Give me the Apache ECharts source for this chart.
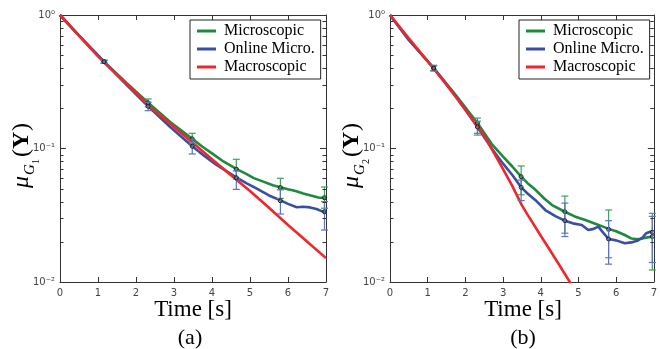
<!DOCTYPE html>
<html>
<head>
<meta charset="utf-8">
<script src="https://cdn.jsdelivr.net/npm/echarts@6.0.0/dist/echarts.min.js"></script>
<style>html,body{margin:0;padding:0;background:#fff;}#c{width:660px;height:349px;}</style>
</head>
<body>
<div id="c"></div>
<script>
// ---------- data ----------
const xTicks = [0, 1, 2, 3, 4, 5, 6, 7];
const yTickLabels = {"0": "10\u2070", "-1": "10\u207B\u00B9", "-2": "10\u207B\u00B2"};
const seriesNames = ["Microscopic", "Online Micro.", "Macroscopic"];
const minorTicks = [0.02,0.03,0.04,0.05,0.06,0.07,0.08,0.09,0.2,0.3,0.4,0.5,0.6,0.7,0.8,0.9];

// (a) left panel
const aMicroT = [0, 0.5, 1.16, 1.75, 2.32, 2.9, 3.48, 3.75, 4.0, 4.3, 4.65, 4.9, 5.1, 5.35, 5.6, 5.82, 6.0, 6.2, 6.4, 6.6, 6.8, 7.0];
const aMicroV = [1, 0.70, 0.447, 0.31, 0.22, 0.158, 0.118, 0.103, 0.092, 0.080, 0.070, 0.0645, 0.060, 0.0565, 0.053, 0.051, 0.0495, 0.048, 0.046, 0.0445, 0.043, 0.0425];
const aOnlineT = [0, 0.5, 1.16, 1.75, 2.32, 2.9, 3.48, 3.8, 4.1, 4.4, 4.65, 4.9, 5.18, 5.5, 5.82, 6.0, 6.23, 6.4, 6.58, 6.75, 6.9, 7.0];
const aOnlineV = [1, 0.70, 0.447, 0.30, 0.207, 0.145, 0.104, 0.088, 0.076, 0.067, 0.0605, 0.055, 0.050, 0.0445, 0.0407, 0.0385, 0.0363, 0.0366, 0.0362, 0.0352, 0.0338, 0.0333];
const aMacroT = [0, 0.5, 1, 1.5, 2, 2.5, 3, 3.5, 4, 4.5, 5, 5.5, 6, 6.5, 7];
const aMacroV = [1, 0.70, 0.49, 0.355, 0.26, 0.19, 0.145, 0.11, 0.083, 0.063, 0.048, 0.036, 0.0267, 0.0201, 0.0151];
// error bars: [t, mean, low, high]
const aMicroErr = [[1.16,0.447,0.437,0.457],[2.32,0.220,0.205,0.235],[3.48,0.118,0.108,0.130],[4.64,0.070,0.059,0.083],[5.8,0.051,0.0423,0.0598],[6.96,0.0428,0.0357,0.0515]];
const aOnlineErr = [[1.16,0.447,0.435,0.459],[2.32,0.207,0.192,0.222],[3.48,0.104,0.091,0.116],[4.64,0.0604,0.0494,0.068],[5.8,0.0406,0.0323,0.049],[6.96,0.0336,0.0245,0.040]];

// (b) right panel
const bMicroT = [0, 0.5, 1.16, 1.75, 2.32, 2.7, 3.0, 3.25, 3.48, 3.65, 3.86, 4.1, 4.3, 4.64, 4.9, 5.18, 5.5, 5.8, 6.0, 6.23, 6.4, 6.58, 6.8, 6.96];
const bMicroV = [1, 0.65, 0.40, 0.25, 0.155, 0.108, 0.087, 0.073, 0.0615, 0.055, 0.049, 0.042, 0.0377, 0.0336, 0.031, 0.0291, 0.027, 0.025, 0.024, 0.0225, 0.0212, 0.0209, 0.0215, 0.0219];
const bOnlineT = [0, 0.5, 1.16, 1.75, 2.32, 2.7, 3.0, 3.25, 3.48, 3.65, 3.86, 4.12, 4.4, 4.64, 4.85, 5.09, 5.26, 5.4, 5.53, 5.65, 5.8, 6.0, 6.23, 6.4, 6.58, 6.7, 6.8, 6.9, 6.96];
const bOnlineV = [1, 0.65, 0.40, 0.245, 0.145, 0.100, 0.077, 0.063, 0.0512, 0.046, 0.041, 0.0346, 0.031, 0.0288, 0.0275, 0.0267, 0.0245, 0.025, 0.026, 0.0235, 0.021, 0.0205, 0.0195, 0.0198, 0.0205, 0.0215, 0.0232, 0.0238, 0.0236];
const bMacroT = [0, 0.5, 1, 1.5, 2, 2.5, 3, 3.25, 3.5, 3.65, 4, 4.25, 4.5, 4.8];
const bMacroV = [1, 0.67, 0.45, 0.30, 0.195, 0.125, 0.070, 0.052, 0.0375, 0.032, 0.0222, 0.0172, 0.0133, 0.0097];
const bMicroErr = [[1.16,0.40,0.385,0.415],[2.32,0.155,0.126,0.169],[3.48,0.0615,0.045,0.074],[4.64,0.0336,0.0232,0.044],[5.8,0.0248,0.0152,0.0346],[6.96,0.0219,0.0123,0.0327]];
const bOnlineErr = [[1.16,0.40,0.38,0.42],[2.32,0.145,0.13,0.16],[3.48,0.0512,0.0407,0.058],[4.64,0.0288,0.0219,0.039],[5.8,0.021,0.0136,0.0288],[6.96,0.0236,0.014,0.031]];

// ---------- styling ----------
const GREEN = '#1e8a3c', BLUE = '#3a4ea6', RED = '#f0262a';
const GREEN_ERR = '#3fa060', BLUE_ERR = '#5d72c0';
const AX = '#333';
const SERIF = '"Liberation Serif","Times New Roman",serif';
const SANS = '"DejaVu Sans",sans-serif';

function zip(t, v) { return t.map((x, i) => [x, v[i]]); }

const grids = [
  {left: 60, top: 15, width: 266, height: 267},
  {left: 390, top: 15, width: 266, height: 267}
];

const lineSt = {show: true, onZero: false, lineStyle: {color: AX, width: 1}};
const xAxes = [], yAxes = [];
grids.forEach((g, i) => {
  xAxes.push({
    gridIndex: i, type: 'value', min: 0, max: 7, interval: 1, position: 'bottom',
    axisLine: lineSt,
    axisTick: {inside: true, length: 5, lineStyle: {color: AX}},
    axisLabel: {color: '#444', fontSize: 10, fontFamily: SANS, margin: 6,
      formatter: v => xTicks.indexOf(v) >= 0 ? String(v) : ''},
    splitLine: {show: false}
  });
  xAxes.push({
    gridIndex: i, type: 'value', min: 0, max: 7, interval: 1, position: 'top',
    axisLine: lineSt,
    axisTick: {inside: true, length: 5, lineStyle: {color: AX}},
    axisLabel: {show: false}, splitLine: {show: false}
  });
  yAxes.push({
    gridIndex: i, type: 'log', logBase: 10, min: 0.01, max: 1, position: 'left',
    axisLine: lineSt,
    axisTick: {inside: true, length: 6, lineStyle: {color: AX}},
    axisLabel: {color: '#444', fontSize: 10, fontFamily: SANS, margin: 5,
      formatter: v => yTickLabels[String(Math.round(Math.log10(v)))] || ''},
    splitLine: {show: false}
  });
  yAxes.push({
    gridIndex: i, type: 'log', logBase: 10, min: 0.01, max: 1, position: 'right',
    axisLine: lineSt,
    axisTick: {inside: true, length: 6, lineStyle: {color: AX}},
    axisLabel: {show: false}, splitLine: {show: false}
  });
});

function lineSeries(name, data, color, gi, z) {
  return {
    name, type: 'line', data, xAxisIndex: gi * 2, yAxisIndex: gi * 2,
    showSymbol: false, symbol: 'none', color, z,
    lineStyle: {color, width: 2.6}, clip: true, animation: false
  };
}

function errSeries(data, color, gi) {
  return {
    type: 'custom', xAxisIndex: gi * 2, yAxisIndex: gi * 2, data, z: 10,
    encode: {x: 0, y: [1, 2, 3]}, animation: false, silent: true,
    renderItem: (params, api) => {
      const t = api.value(0);
      const pm = api.coord([t, api.value(1)]);
      const yLo = api.coord([t, api.value(2)])[1];
      const yHi = api.coord([t, api.value(3)])[1];
      const x = pm[0], w = 3.5;
      const st = {stroke: color, lineWidth: 1.2};
      return {type: 'group', children: [
        {type: 'line', shape: {x1: x, y1: yLo, x2: x, y2: yHi}, style: st},
        {type: 'line', shape: {x1: x - w, y1: yLo, x2: x + w, y2: yLo}, style: st},
        {type: 'line', shape: {x1: x - w, y1: yHi, x2: x + w, y2: yHi}, style: st},
        {type: 'circle', shape: {cx: x, cy: pm[1], r: 2}, style: {fill: 'none', stroke: '#222', lineWidth: 1}}
      ]};
    }
  };
}

function minorSeries(gi) {
  return {
    type: 'custom', xAxisIndex: gi * 2, yAxisIndex: gi * 2, z: 12, silent: true, animation: false,
    data: minorTicks.map(v => [0, v]), encode: {x: 0, y: 1}, clip: false,
    renderItem: (params, api) => {
      const cs = params.coordSys;
      const y = Math.round(api.coord([0, api.value(1)])[1]) + 0.5;
      const st = {stroke: AX, lineWidth: 1};
      return {type: 'group', children: [
        {type: 'line', shape: {x1: cs.x, y1: y, x2: cs.x + 3.5, y2: y}, style: st},
        {type: 'line', shape: {x1: cs.x + cs.width - 3.5, y1: y, x2: cs.x + cs.width, y2: y}, style: st}
      ]};
    }
  };
}

const series = [
  lineSeries(seriesNames[0], zip(aMicroT, aMicroV), GREEN, 0, 2),
  lineSeries(seriesNames[1], zip(aOnlineT, aOnlineV), BLUE, 0, 3),
  lineSeries(seriesNames[2], zip(aMacroT, aMacroV), RED, 0, 4),
  errSeries(aMicroErr, GREEN_ERR, 0),
  errSeries(aOnlineErr, BLUE_ERR, 0),
  minorSeries(0),
  lineSeries(seriesNames[0], zip(bMicroT, bMicroV), GREEN, 1, 2),
  lineSeries(seriesNames[1], zip(bOnlineT, bOnlineV), BLUE, 1, 3),
  lineSeries(seriesNames[2], zip(bMacroT, bMacroV), RED, 1, 4),
  errSeries(bMicroErr, GREEN_ERR, 1),
  errSeries(bOnlineErr, BLUE_ERR, 1),
  minorSeries(1)
];

function legendAt(left) {
  return {
    data: seriesNames, orient: 'vertical', left, top: 20, icon: 'rect',
    itemWidth: 19, itemHeight: 3, itemGap: 2, padding: [3, 6, 4, 7],
    backgroundColor: '#fff', borderColor: '#222', borderWidth: 1, borderRadius: 0,
    textStyle: {fontFamily: SERIF, fontSize: 16, color: '#000', padding: [0, 0, 0, 3]},
    selectedMode: false, z: 20
  };
}

function yLabel(x, sub) {
  const base = {fill: '#000', verticalAlign: 'bottom', align: 'left'};
  return {
    type: 'group', x, y: 188, rotation: Math.PI / 2, children: [
      {type: 'text', x: 0, y: 5, style: Object.assign({}, base, {text: '\u03BC', font: 'italic 24px ' + SERIF})},
      {type: 'text', x: 13, y: 9, style: Object.assign({}, base, {text: 'G', font: 'italic 15px ' + SERIF})},
      {type: 'text', x: 24, y: 12, style: Object.assign({}, base, {text: sub, font: '10px ' + SERIF})},
      {type: 'text', x: 31, y: 5, style: Object.assign({}, base, {text: '(', font: '24px ' + SERIF})},
      {type: 'text', x: 39, y: 5, style: Object.assign({}, base, {text: 'Y', font: 'bold 24px ' + SERIF})},
      {type: 'text', x: 57, y: 5, style: Object.assign({}, base, {text: ')', font: '24px ' + SERIF})}
    ]
  };
}

function centered(text, x, y, size) {
  return {type: 'text', x, y, style: {text, font: size + 'px ' + SERIF, fill: '#000', align: 'center', verticalAlign: 'middle'}};
}

const option = {
  backgroundColor: '#fff',
  animation: false,
  grid: grids.map(g => Object.assign({show: false}, g)),
  xAxis: xAxes,
  yAxis: yAxes,
  legend: [legendAt(190), legendAt(519)],
  series,
  graphic: [
    yLabel(29, '1'),
    yLabel(359, '2'),
    centered('Time [s]', 193, 310, 23),
    centered('(a)', 190, 338, 22),
    centered('Time [s]', 523, 310, 23),
    centered('(b)', 523, 338, 22)
  ]
};

const chart = echarts.init(document.getElementById('c'), null, {renderer: 'canvas'});
chart.setOption(option);
</script>
</body>
</html>
